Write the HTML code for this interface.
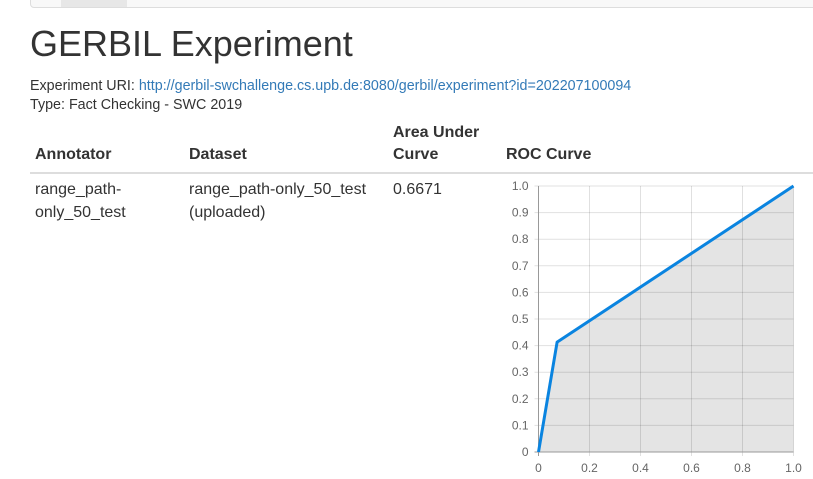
<!DOCTYPE html>
<html><head><meta charset="utf-8">
<style>
html,body{margin:0;padding:0;background:#fff;width:813px;height:479px;overflow:hidden;font-family:"Liberation Sans",sans-serif;color:#333;}
.nav{position:absolute;left:30px;top:-5px;width:800px;height:11px;border:1px solid #ddd;border-radius:4px;background:#f8f8f8;}
.tab{position:absolute;left:30px;top:0;width:66px;height:11px;background:#e7e7e7;}
h1{position:absolute;left:30px;top:22px;margin:0;font-size:36px;font-weight:400;line-height:44px;}
.l1{position:absolute;left:30px;top:78px;font-size:14.3px;}
.l2{position:absolute;left:30px;top:97px;font-size:14.3px;}
a{color:#337ab7;text-decoration:none;}
.th{position:absolute;font-weight:bold;font-size:16px;line-height:22px;}
.td{position:absolute;font-size:16px;line-height:23px;}
.hr{position:absolute;left:30px;top:172px;width:783px;height:2px;background:#ddd;}
</style></head><body>
<div class="nav"><div class="tab"></div></div>
<h1>GERBIL Experiment</h1>
<div class="l1">Experiment URI: <a href="#">http://gerbil-swchallenge.cs.upb.de:8080/gerbil/experiment?id=202207100094</a></div>
<div class="l2">Type: Fact Checking - SWC 2019</div>
<div class="th" style="left:35px;top:144px">Annotator</div>
<div class="th" style="left:189px;top:144px">Dataset</div>
<div class="th" style="left:393px;top:122px">Area Under<br>Curve</div>
<div class="th" style="left:506px;top:144px">ROC Curve</div>
<div class="hr"></div>
<div class="td" style="left:35px;top:178px">range_path-<br>only_50_test</div>
<div class="td" style="left:189px;top:178px">range_path-only_50_test<br>(uploaded)</div>
<div class="td" style="left:393px;top:178px">0.6671</div>
<svg id="roc" width="813" height="479" style="position:absolute;left:0;top:0"></svg>
<script>
const fprValues=[0,0.073,1.0];
const tprValues=[0,0.413,1.0];
const yTicks=[0,0.1,0.2,0.3,0.4,0.5,0.6,0.7,0.8,0.9,1.0];
const yTickLabels=["0","0.1","0.2","0.3","0.4","0.5","0.6","0.7","0.8","0.9","1.0"];
const xTicks=[0,0.2,0.4,0.6,0.8,1.0];
const xTickLabels=["0","0.2","0.4","0.6","0.8","1.0"];
const X0=538.5,X1=793.5,Y0=452,Y1=186;
const sx=v=>X0+v*(X1-X0), sy=v=>Y0-v*(Y0-Y1);
const svg=document.getElementById('roc');const NS='http://www.w3.org/2000/svg';
function mk(t,a){const e=document.createElementNS(NS,t);for(const k in a)e.setAttribute(k,a[k]);svg.appendChild(e);return e;}
let d='M'+sx(fprValues[0])+','+sy(tprValues[0]);
for(let i=1;i<fprValues.length;i++)d+=' L'+sx(fprValues[i])+','+sy(tprValues[i]);
let area=mk('path',{d:d+' L'+sx(fprValues[fprValues.length-1])+','+sy(0)+' Z',fill:'#e4e4e4'});


yTicks.forEach((v,i)=>{
 let g=mk('line',{x1:X0-4,x2:X1,y1:sy(v),y2:sy(v),stroke:'rgba(0,0,0,0.12)','stroke-width':1});
 
 
 let t=mk('text',{x:X0-10,y:sy(v)+4,'text-anchor':'end','font-size':12,fill:'#666','font-family':'Liberation Sans, sans-serif'});
 t.textContent=yTickLabels[i];
 
 
});
xTicks.forEach((v,i)=>{
 let g=mk('line',{x1:sx(v),x2:sx(v),y1:Y1,y2:Y0+4,stroke:'rgba(0,0,0,0.12)','stroke-width':1});
 
 
 let t=mk('text',{x:sx(v),y:Y0+20,'text-anchor':'middle','font-size':12,fill:'#666','font-family':'Liberation Sans, sans-serif'});
 t.textContent=xTickLabels[i];
 
 
});
let ya=mk('line',{x1:X0,x2:X0,y1:Y1,y2:Y0+4,stroke:'#999','stroke-width':1});


let xa=mk('line',{x1:X0-4,x2:X1,y1:Y0,y2:Y0,stroke:'#999','stroke-width':1});


let ln=mk('path',{d:d,fill:'none',stroke:'#0a84e0','stroke-width':3,'stroke-linejoin':'round'});


</script>
</body></html>
